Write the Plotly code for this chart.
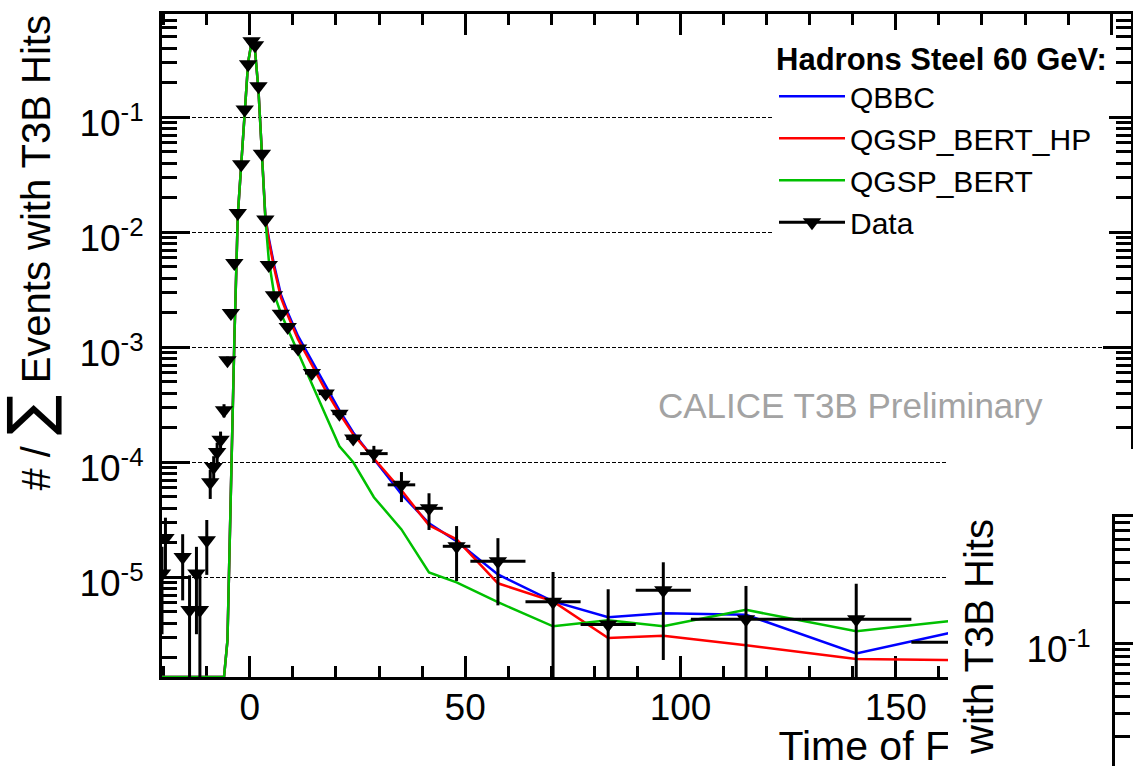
import plotly.graph_objects as go

# ---------------- data ----------------
# Data: time of first hit (bin centre, ns), fraction of events, errors
data_time = [-20.4, -19.6, -15.6, -14.0, -12.4, -11.6, -10.0, -9.2, -8.4, -7.6,
             -6.8, -6.0, -5.2, -4.4, -3.6, -2.8, -2.0, -1.2, -0.4, 0.4,
             1.2, 2.0, 2.8, 3.6, 4.4, 5.6, 7.2, 8.8, 11.2, 14.4,
             17.6, 20.8, 24.0, 28.8, 35.2, 41.6, 48.0, 57.6, 70.4, 83.2,
             96.0, 115.2, 140.8, 166.4]
data_frac = [1.08e-5, 2.2e-5, 1.5e-5, 5.2e-6, 1.08e-5, 5.2e-6, 2.1e-5, 6.7e-5, 9.1e-5, 1.23e-4,
             1.57e-4, 2.83e-4, 7.7e-4, 1.99e-3, 5.41e-3, 1.47e-2, 3.9e-2, 0.117, 0.289, 0.46,
             0.423, 0.186, 0.0483, 0.0129, 5.21e-3, 2.83e-3, 1.96e-3, 1.5e-3, 9.75e-4, 5.98e-4,
             3.96e-4, 2.65e-4, 1.61e-4, 1.19e-4, 6.37e-5, 3.98e-5, 1.86e-5, 1.38e-5, 6.12e-6, 3.88e-6,
             7.71e-6, 4.31e-6, 4.31e-6, 2.72e-6]
data_err = [7.6e-6, 1.1e-5, 8.7e-6, 5.2e-6, 7.6e-6, 5.2e-6, 1.05e-5, 1.9e-5, 2.2e-5, 2.5e-5,
            2.8e-5, 3.7e-5, 6.0e-5, 1.0e-4, 1.7e-4, 3.0e-4, 4.0e-4, 8.0e-4, 1.2e-3, 1.5e-3,
            1.5e-3, 1.0e-3, 5.0e-4, 2.6e-4, 1.7e-4, 9.0e-5, 7.0e-5, 6.0e-5, 3.5e-5, 2.8e-5,
            2.2e-5, 1.8e-5, 1.4e-5, 2.0e-5, 1.86e-5, 1.4e-5, 9.3e-6, 8.1e-6, 5.0e-6, 4.0e-6,
            5.8e-6, 4.1e-6, 4.5e-6, 2.7e-6]
data_half_bin = [0.4] * 25 + [0.8] * 3 + [1.6] * 5 + [3.2] * 4 + [6.4] * 4 + [12.8] * 3

# Simulations (same binning, bin centres)
mc_time = [-20.4, -6.0, -5.2, -4.4, -3.6, -2.8, -2.0, -1.2, -0.4, 0.4,
           1.2, 2.0, 2.8, 3.6, 4.4, 5.6, 7.2, 8.8, 11.2, 14.4,
           17.6, 20.8, 24.0, 28.8, 35.2, 41.6, 48.0, 57.6, 70.4, 83.2,
           96.0, 115.2, 140.8, 166.4]
qbbc = [0, 0, 2.83e-6, 6.97e-5, 1.15e-3, 1.41e-2, 3.83e-2, 0.108, 0.301, 0.449,
        0.383, 0.172, 0.0497, 0.0138, 8.87e-3, 5.27e-3, 2.89e-3, 2.01e-3, 1.25e-3, 7.55e-4,
        4.58e-4, 2.83e-4, 1.82e-4, 1.08e-4, 5.27e-5, 2.95e-5, 2.06e-5, 1.06e-5, 6.18e-6, 4.49e-6,
        4.86e-6, 4.72e-6, 2.18e-6, 3.53e-6]
qgsp_bert_hp = [0, 0, 2.83e-6, 6.97e-5, 1.15e-3, 1.41e-2, 3.83e-2, 0.108, 0.301, 0.449,
                0.383, 0.172, 0.0497, 0.0135, 8.51e-3, 4.97e-3, 2.72e-3, 1.90e-3, 1.17e-3, 6.97e-4,
                4.23e-4, 2.67e-4, 1.75e-4, 1.08e-4, 5.71e-5, 2.83e-5, 2.14e-5, 8.87e-6, 6.18e-6, 2.97e-6,
                3.10e-6, 2.56e-6, 1.95e-6, 1.90e-6]
qgsp_bert = [0, 0, 2.83e-6, 6.97e-5, 1.15e-3, 1.41e-2, 3.83e-2, 0.108, 0.301, 0.449,
             0.383, 0.172, 0.0497, 0.0132, 5.71e-3, 2.95e-3, 1.98e-3, 1.44e-3, 8.87e-4, 4.77e-4,
             2.56e-4, 1.38e-4, 1.0e-4, 4.97e-5, 2.61e-5, 1.10e-5, 9.05e-6, 6.07e-6, 3.75e-6, 4.23e-6,
             3.75e-6, 5.21e-6, 3.39e-6, 4.31e-6]

series_names = ["QBBC", "QGSP_BERT_HP", "QGSP_BERT"]
legend_header = "Hadrons Steel 60 GeV:"

x_tick_vals = [0, 50, 100, 150, 200]
x_tick_text = ["0", "50", "100", "150", "200"]
y_tick_vals = [1e-5, 1e-4, 1e-3, 1e-2, 1e-1]
y_tick_text = ["10<sup>-5</sup>", "10<sup>-4</sup>", "10<sup>-3</sup>", "10<sup>-2</sup>", "10<sup>-1</sup>"]
y2_tick_vals = [1e-2, 1e-1]
y2_tick_text = ["10<sup>-2</sup>", "10<sup>-1</sup>"]

x_title = "Time of First Hit [ns]"
y_title = ("# / <span style='font-family:DejaVu Sans;font-size:60px'>\u2211</span>"
           " Events with T3B Hits")

# ---------------- layout constants ----------------
W, H = 1133, 766
FONT = "Liberation Sans, Arial, Helvetica, sans-serif"
X_RANGE = [-20.4, 204.6]
Y_RANGE = [-5.867, -0.097]          # log10


def px(v):
    return v / W


def py(v):
    return 1 - v / H


bottom_value = 10 ** Y_RANGE[0]


def at_floor(vals):
    # empty bins are drawn on the lower frame, as in ROOT
    return [v if v > 0 else bottom_value for v in vals]


fig = go.Figure()

colors = ["#0000ff", "#ff0000", "#00c000"]
for name, vals, col in zip(series_names, [qbbc, qgsp_bert_hp, qgsp_bert], colors):
    fig.add_trace(go.Scatter(x=mc_time, y=at_floor(vals), mode="lines", name=name,
                             line=dict(color=col, width=2.5), hoverinfo="skip"))

# legend-only entry for the data
fig.add_trace(go.Scatter(x=[None], y=[None], mode="lines+markers", name="Data",
                         line=dict(color="black", width=3),
                         marker=dict(symbol="triangle-down", size=16, color="black")))

fig.add_trace(go.Scatter(x=data_time, y=data_frac, mode="markers", name="Data", showlegend=False,
                         marker=dict(symbol="triangle-down", size=16, color="black"),
                         error_y=dict(type="data", array=data_err, color="black", thickness=3, width=0),
                         error_x=dict(type="data", array=data_half_bin, color="black", thickness=3, width=0)))

# helper traces (no visible points) so that every subplot exists, in drawing order
for xa, ya in [("x2", "y2"), ("x3", "y3"), ("x4", "y4")]:
    fig.add_trace(go.Scatter(x=[None], y=[None], xaxis=xa, yaxis=ya, mode="markers",
                             showlegend=False, hoverinfo="skip"))

tick_common = dict(tickcolor="black", tickwidth=2.5, ticks="inside", automargin=False)

fig.update_layout(
    width=W, height=H,
    margin=dict(l=0, r=0, t=0, b=0, autoexpand=False),
    paper_bgcolor="white", plot_bgcolor="white",
    font=dict(family=FONT, color="black", size=37),
    showlegend=True,
    legend=dict(x=px(774), y=py(30), xanchor="left", yanchor="top",
                bgcolor="white", borderwidth=0, itemwidth=66,
                font=dict(size=30, family=FONT, color="black"),
                title=dict(text="<b>" + legend_header + "</b>", font=dict(size=31, family=FONT)),
                tracegroupgap=0),
    # main panel
    xaxis=dict(domain=[px(162), px(1131)], range=X_RANGE, anchor="y",
               showline=True, linecolor="black", linewidth=3, mirror="allticks",
               ticklen=21, tickvals=x_tick_vals, ticktext=x_tick_text,
               tickfont=dict(size=37), ticklabelstandoff=-4,
               minor=dict(dtick=10, tick0=0, ticks="inside", ticklen=11, tickwidth=2.5,
                          tickcolor="black", showgrid=False),
               showgrid=False, zeroline=False, layer="below traces", **tick_common),
    yaxis=dict(type="log", domain=[py(677), py(13.5)], range=Y_RANGE, anchor="x",
               showline=True, linecolor="black", linewidth=3, mirror="allticks",
               ticklen=28, tickvals=y_tick_vals, ticktext=y_tick_text,
               tickfont=dict(size=37), ticklabelstandoff=8, ticklabelshift=6,
               minor=dict(dtick="D1", ticks="inside", ticklen=15, tickwidth=2.5,
                          tickcolor="black", showgrid=False),
               showgrid=True, gridcolor="black", gridwidth=1.2, griddash="4px,2px",
               zeroline=False, layer="below traces", **tick_common),
    # strip carrying the right-aligned x-axis title (as a tick label so it can be covered)
    xaxis2=dict(domain=[px(811), px(1111)], range=[0, 1], anchor="y2", automargin=False,
                tickvals=[0.5], ticktext=[x_title], ticks="", showline=False,
                ticklabeloverflow="allow",
                showgrid=False, zeroline=False, tickfont=dict(size=41), ticklabelstandoff=4),
    yaxis2=dict(domain=[py(714), py(694)], range=[0, 1], visible=False, anchor="x2"),
    # blank panel of the neighbouring figure covering the lower right corner
    xaxis3=dict(domain=[px(948), 1], range=[0, 1], visible=False, anchor="y3"),
    yaxis3=dict(domain=[0, py(449)], range=[0, 1], visible=False, anchor="x3"),
    # neighbouring figure's frame
    xaxis4=dict(domain=[px(1115), 1], range=[0, 1], anchor="y4",
                showline=True, linecolor="black", linewidth=3, mirror=True, automargin=False,
                ticks="", showticklabels=False, showgrid=False, zeroline=False),
    yaxis4=dict(type="log", domain=[0, py(517)], range=[-1.916, -0.0575], anchor="x4",
                showline=True, linecolor="black", linewidth=3, mirror=True,
                ticklen=28, tickvals=y2_tick_vals, ticktext=y2_tick_text,
                tickfont=dict(size=37), ticklabelstandoff=14, ticklabelshift=6,
                ticklabeloverflow="allow",
                minor=dict(dtick="D1", ticks="inside", ticklen=15, tickwidth=2.5,
                           tickcolor="black", showgrid=False),
                showgrid=False, zeroline=False, **tick_common),
    annotations=[
        dict(text=y_title, textangle=-90, xref="paper", yref="paper",
             x=px(-9), y=py(14), xanchor="left", yanchor="top", showarrow=False,
             font=dict(size=40, family=FONT, color="black")),
        dict(text=y_title, textangle=-90, xref="paper", yref="paper",
             x=px(934), y=py(518), xanchor="left", yanchor="top", showarrow=False,
             font=dict(size=40, family=FONT, color="black")),
        dict(text="CALICE T3B Preliminary", xref="paper", yref="paper",
             x=px(656), y=py(405), xanchor="left", yanchor="middle", showarrow=False,
             font=dict(size=35, family=FONT, color="#a3a3a3")),
    ],
)

fig.write_html("out.html", config={"displayModeBar": False})
